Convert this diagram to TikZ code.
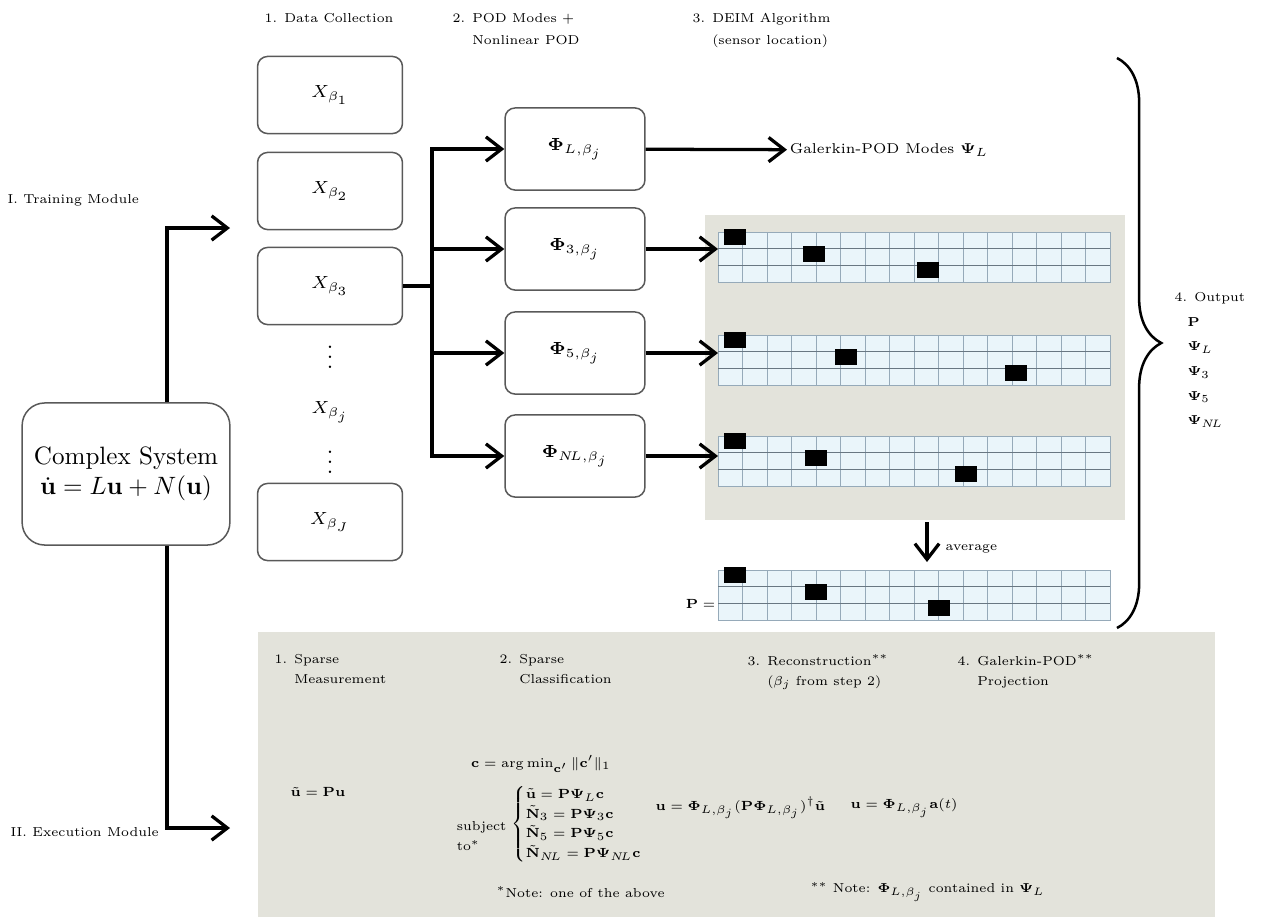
\documentclass[tikz,border=0pt]{standalone}
\usepackage{amsmath,amssymb}
\usepackage{bm}
\usetikzlibrary{arrows.meta,positioning,decorations.pathreplacing}

\definecolor{panelgray}{RGB}{227,227,219}
\definecolor{cellblue}{RGB}{234,245,250}
\definecolor{cellline}{RGB}{150,170,185}

\tikzset{
  stagebox/.style={rectangle, draw=black!65, rounded corners=4pt, line width=0.6pt,
    minimum width=2.03cm, minimum height=1.08cm, font=\fontsize{7.5}{9}\selectfont},
  phibox/.style={stagebox, minimum width=1.96cm, minimum height=1.15cm},
  flow/.style={line width=1.3pt, -{Straight Barb[length=2.2mm,width=3.4mm]}},
  lbl/.style={font=\fontsize{6}{9.3}\selectfont, align=left, inner sep=1pt, scale=0.86, transform shape},
  eqn/.style={font=\fontsize{6.3}{9}\selectfont, inner sep=1pt, scale=0.88, transform shape},
  gridbox/.style={rectangle, fill=cellblue, draw=cellline, minimum width=5.49cm,
    minimum height=0.7cm, inner sep=0pt},
}

% sensor grid: name, top, x of row-2 sensor, x of row-3 sensor
\newcommand{\deimgrid}[4]{%
  \node[gridbox, anchor=north west] (#1) at (718,#2) {};
  \foreach \col in {1,...,15}
    \draw[cellline, line width=0.4pt] ({718+\col*24.5},#2) -- ({718+\col*24.5},{#2+50});
  \foreach \row in {1,2}
    \draw[cellline!70!black, line width=0.5pt] (718,{#2+\row*16.7}) -- (1110,{#2+\row*16.7});
  \fill (724,{#2-3}) rectangle ++(22,16);
  \fill (#3,{#2+13.7}) rectangle ++(22,16);
  \fill (#4,{#2+30.4}) rectangle ++(22,16);
}

\begin{document}
\begin{tikzpicture}[x=0.014cm, y=-0.014cm, >=latex]
\useasboundingbox (0,0) rectangle (1283,917);

% gray panels
\fill[panelgray] (705,215) rectangle (1125,520);
\fill[panelgray] (258,632) rectangle (1215,917);

% headers
\node (hdata) [lbl, anchor=north west] at (262,11) {1. Data Collection};
\node (hpod) [lbl, anchor=north west, font=\fontsize{6}{10.2}\selectfont] at (450,11) {2. POD Modes +\\\phantom{2. }Nonlinear POD};
\node (hdeim) [lbl, anchor=north west, font=\fontsize{6}{10.2}\selectfont] at (690,11) {3. DEIM Algorithm\\\phantom{3. }(sensor location)};

% modules
\node (train) [lbl, anchor=west] at (5,200) {I. Training Module};
\node (exe) [lbl, anchor=west] at (8,832) {II. Execution Module};
\node (sys) [stagebox, minimum width=2.91cm, minimum height=1.99cm, rounded corners=9pt,
  align=center, font=\normalsize] at (126,474) {Complex System\\ $\dot{\mathbf u} = L\mathbf u + N(\mathbf u)$};

\coordinate (tap) at (167,0);
\coordinate (trainin) at (230,228);
\coordinate (execin) at (230,828);
\draw[flow] (sys.north -| tap) |- (trainin);
\draw[flow] (sys.south -| tap) |- (execin);

% data collection
\node (x1) [stagebox] at (330,95) {$X_{\beta_1}$};
\node (x2) [stagebox] at (330,191) {$X_{\beta_2}$};
\node (x3) [stagebox] at (330,286) {$X_{\beta_3}$};
\node (dots1) [font=\small] at (330,350) {$\vdots$};
\node (xj) [font=\fontsize{7.5}{9}\selectfont] at (330,412) {$X_{\beta_j}$};
\node (dots2) [font=\small] at (330,455) {$\vdots$};
\node (xJ) [stagebox] at (330,522) {$X_{\beta_J}$};

% POD modes
\node (phi1) [phibox] at (575,149) {$\bm\Phi_{L,\beta_j}$};
\node (phi2) [phibox] at (575,249) {$\bm\Phi_{3,\beta_j}$};
\node (phi3) [phibox] at (575,353) {$\bm\Phi_{5,\beta_j}$};
\node (phi4) [phibox] at (575,456) {$\bm\Phi_{N\!L,\beta_j}$};

\coordinate (split) at (432,286);
\draw[line width=1.3pt] (x3.east) -- (split);
\foreach \p in {phi1,phi2,phi3,phi4}
  \draw[flow] (split) |- (\p.west);

\node (gal) [lbl, anchor=west, scale=1.1] at (787,150) {Galerkin-POD Modes $\bm\Psi_L$};
\draw[flow] (phi1) -- (gal);

% DEIM sensor grids
\deimgrid{g1}{232}{803}{917}
\deimgrid{g2}{335}{835}{1005}
\deimgrid{g3}{436}{805}{955}
\deimgrid{gP}{570}{805}{928}
\node (peq) [eqn, anchor=east] at ([yshift=-0.12cm]gP.west) {$\mathbf P =$};

\draw[flow] (phi2.east) -- (phi2.east -| g1.west);
\draw[flow] (phi3.east) -- (phi3.east -| g2.west);
\draw[flow] (phi4.east) -- (phi4.east -| g3.west);

\coordinate (avgtop) at (927,522);
\coordinate (avgend) at (927,562);
\draw[flow] (avgtop) -- (avgend);
\node (avg) [lbl, anchor=west] at (943,549) {average};

% output brace
\coordinate (btop) at (1117,58);
\coordinate (bbot) at (1117,628);
\draw[line width=1pt, decorate, decoration={brace, amplitude=0.62cm}] (btop) -- (bbot);
\node (out) [lbl, anchor=north west, font=\fontsize{6}{11.4}\selectfont] at (1172,290) {4. Output\\
  \quad$\mathbf P$\\ \quad$\bm\Psi_L$\\ \quad$\bm\Psi_3$\\ \quad$\bm\Psi_5$\\ \quad$\bm\Psi_{N\!L}$};

% execution module
\node (s1) [lbl, anchor=north west] at (272,652) {1. Sparse\\\phantom{1. }Measurement};
\node (s2) [lbl, anchor=north west] at (497,652) {2. Sparse\\\phantom{2. }Classification};
\node (s3) [lbl, anchor=north west] at (745,652) {3. Reconstruction$^{**}$\\\phantom{3. }($\beta_j$ from step 2)};
\node (s4) [lbl, anchor=north west] at (955,652) {4. Galerkin-POD$^{**}$\\\phantom{4. }Projection};

\node (meas) [eqn] at (318,792) {$\tilde{\mathbf u} = \mathbf P\mathbf u$};
\node (argmin) [eqn] at (541,764) {$\mathbf c = \arg\min_{\mathbf c'} \|\mathbf c'\|_1$};
\node (subj) [lbl, anchor=east] at (509,836) {subject\\to$^*$};
\node (cases) [eqn, anchor=west] at (509,824) {%
  $\left\{\begin{array}{@{}l@{}}
    \tilde{\mathbf u} = \mathbf P\bm\Psi_L\mathbf c\\
    \tilde{\mathbf N}_3 = \mathbf P\bm\Psi_3\mathbf c\\
    \tilde{\mathbf N}_5 = \mathbf P\bm\Psi_5\mathbf c\\
    \tilde{\mathbf N}_{N\!L} = \mathbf P\bm\Psi_{N\!L}\mathbf c
  \end{array}\right.$};
\node (recon) [eqn, anchor=west] at (653,808) {$\mathbf u = \bm\Phi_{L,\beta_j}(\mathbf P\bm\Phi_{L,\beta_j})^{\dagger}\tilde{\mathbf u}$};
\node (proj) [eqn, anchor=west] at (848,808) {$\mathbf u = \bm\Phi_{L,\beta_j}\mathbf a(t)$};
\node (note1) [lbl, anchor=west] at (494,892) {$^*$Note: one of the above};
\node (note2) [lbl, anchor=west] at (808,892) {$^{**}$ Note: $\bm\Phi_{L,\beta_j}$ contained in $\bm\Psi_L$};
\end{tikzpicture}
\end{document}
